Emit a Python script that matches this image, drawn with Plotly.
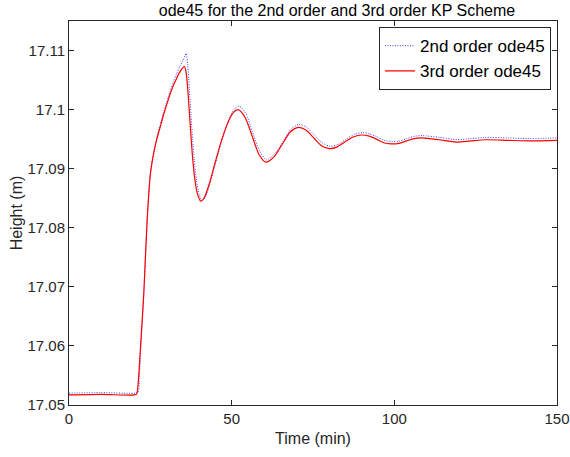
import plotly.graph_objects as go

# 3rd order ode45 (red, solid)
t3 = [0, 10, 20, 20.8, 21.3, 22, 23, 24, 25, 26, 27, 28, 29, 30, 31, 32, 33, 34, 35, 35.5,
      36, 36.5, 37, 37.5, 38, 38.7, 39.5, 40.5, 41.5, 43, 45, 47, 49, 50.5, 52,
      54.1, 56.25, 58.4, 60.5, 63, 65.5, 68, 70.5, 72.9, 75.25, 77.6, 80,
      82.5, 85, 87.5, 90, 92.25, 94.5, 96.75, 99, 101.4, 103.75, 106.1, 108.5,
      113.75, 119, 123.5, 128, 135, 142, 150]
h3 = [17.0517, 17.0518, 17.0517, 17.0519, 17.0540, 17.0600, 17.0690, 17.0810, 17.0890, 17.0925,
      17.0950, 17.0970, 17.0990, 17.1008, 17.1025, 17.1040, 17.1052, 17.1063, 17.1071, 17.1073,
      17.1063, 17.1035, 17.0995, 17.0955, 17.0918, 17.0881, 17.0857, 17.0845, 17.0850, 17.0872,
      17.0912, 17.0950, 17.0980, 17.0995, 17.1000,
      17.0987, 17.0956, 17.0924, 17.0911, 17.0920, 17.0941, 17.0962, 17.0970, 17.0965, 17.0952,
      17.0939, 17.0934, 17.0937, 17.0946, 17.0954, 17.0957, 17.0955, 17.0950, 17.0944, 17.0942,
      17.0943, 17.0947, 17.0951, 17.0952, 17.0949, 17.0945, 17.0947, 17.0949, 17.0948, 17.0947,
      17.0948]

# 2nd order ode45 (blue, dotted)
t2 = [0, 10, 20, 21.3, 21.6, 22.1, 23, 24, 25, 26, 27, 28, 29, 30, 31, 32, 33, 34, 35, 35.6,
      36, 36.5, 37, 37.5, 38, 38.5, 39.2, 40, 40.8, 42, 43.5, 45.5, 47.5, 49.5, 51, 52.3,
      54.3, 56.4, 58.6, 60.7, 63.2, 65.7, 68.2, 70.7, 73.1, 75.4, 77.8, 80.2,
      82.7, 85.2, 87.7, 90.2, 92.4, 94.7, 96.9, 99.2, 101.6, 103.9, 106.3, 108.6,
      113.9, 119.2, 123.6, 128, 135, 142, 150]
h2 = [17.0520, 17.0521, 17.0520, 17.0522, 17.0545, 17.0600, 17.0690, 17.0812, 17.0893, 17.0928,
      17.0953, 17.0974, 17.0994, 17.1012, 17.1030, 17.1046, 17.1060, 17.1072, 17.1083, 17.1091,
      17.1095, 17.1075, 17.1035, 17.0990, 17.0950, 17.0915, 17.0880, 17.0857, 17.0846, 17.0853,
      17.0878, 17.0918, 17.0957, 17.0988, 17.1002, 17.1006,
      17.0994, 17.0962, 17.0930, 17.0915, 17.0925, 17.0945, 17.0967, 17.0975, 17.0970, 17.0957,
      17.0944, 17.0938, 17.0941, 17.0950, 17.0958, 17.0961, 17.0959, 17.0954, 17.0948, 17.0946,
      17.0947, 17.0951, 17.0955, 17.0956, 17.0953, 17.0949, 17.0951, 17.0953, 17.0952, 17.0951,
      17.0952]

x_ticks = [0, 50, 100, 150]
y_ticks = [17.05, 17.06, 17.07, 17.08, 17.09, 17.10, 17.11]
y_tick_text = ["17.05", "17.06", "17.07", "17.08", "17.09", "17.1", "17.11"]

FONT = "Liberation Sans, Arial, Helvetica, sans-serif"
AX = "#262626"

fig = go.Figure()
fig.add_trace(go.Scatter(x=t2, y=h2, mode="lines", name="2nd order ode45",
                         line=dict(color="rgb(60,60,255)", width=1, dash="1px,1.5px",
                                   shape="spline", smoothing=0.7)))
fig.add_trace(go.Scatter(x=t3, y=h3, mode="lines", name="3rd order ode45",
                         line=dict(color="rgb(255,0,0)", width=1.2,
                                   shape="spline", smoothing=0.7)))

axis_common = dict(showline=True, linecolor=AX, linewidth=1, mirror="ticks",
                   ticks="inside", ticklen=5, tickcolor=AX, showgrid=False,
                   zeroline=False, automargin=False,
                   tickfont=dict(family=FONT, size=15, color=AX))

fig.update_layout(
    width=570, height=457,
    margin=dict(l=69, r=13, t=21, b=52),
    paper_bgcolor="white", plot_bgcolor="white",
    font=dict(family=FONT, color=AX),
    title=dict(text="ode45 for the 2nd order and 3rd order KP Scheme",
               x=313 / 570, xanchor="center", xref="paper",
               y=1 - 10 / 457, yanchor="middle", yref="container",
               font=dict(family=FONT, size=16, color="black")),
    xaxis=dict(range=[0, 150], tickvals=x_ticks,
               title=dict(text="Time (min)", standoff=6,
                          font=dict(family=FONT, size=16, color=AX)),
               **axis_common),
    yaxis=dict(range=[17.05, 17.115], tickvals=y_ticks, ticktext=y_tick_text,
               title=dict(text="Height (m)", standoff=0,
                          font=dict(family=FONT, size=16, color=AX)),
               **axis_common),
    legend=dict(x=0.9877, y=0.984, xanchor="right", yanchor="top",
                bgcolor="white", bordercolor=AX, borderwidth=1,
                font=dict(family=FONT, size=17, color="black"),
                itemwidth=30, tracegroupgap=0),
    showlegend=True,
)

fig.write_html("out.html")
